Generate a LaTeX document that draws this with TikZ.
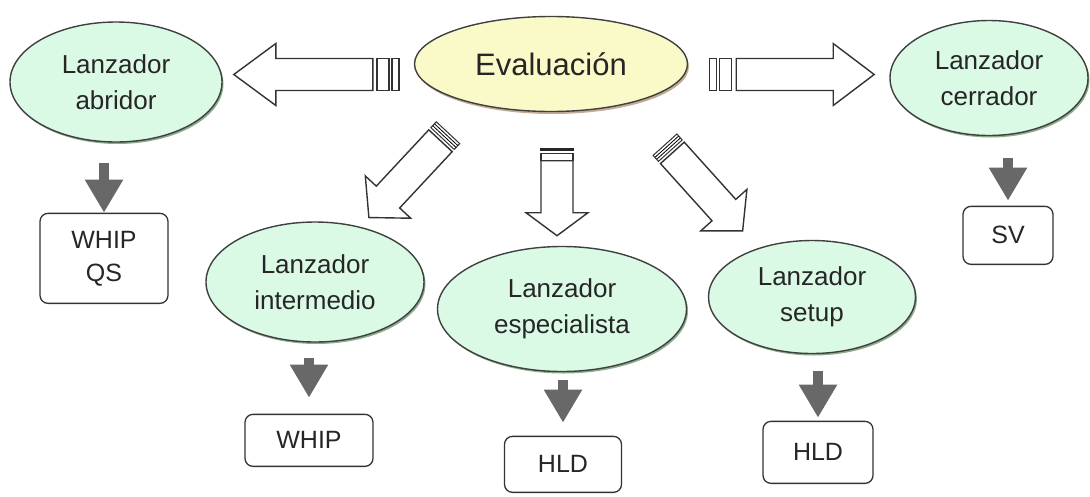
\documentclass[tikz,border=0pt]{standalone}
\usepackage{fontspec}
\setmainfont{Liberation Sans}
\usetikzlibrary{positioning}
\usetikzlibrary{shapes.geometric}
\usetikzlibrary{arrows.meta}
\usetikzlibrary{shadows}
\definecolor{lanzgreen}{HTML}{DAFAE6}
\definecolor{evalyellow}{HTML}{FAFAC8}
\definecolor{dropgrey}{HTML}{686868}
\definecolor{inkgrey}{HTML}{262626}

\begin{document}
\begin{tikzpicture}[x=1pt, y=-1pt,
    OV/.style={ellipse, draw=black!75, line width=1.4pt, inner sep=0pt, align=center, text=inkgrey},
    LZ/.style={OV, fill=lanzgreen, font=\fontsize{26}{36}\selectfont, drop shadow={shadow xshift=1.5pt, shadow yshift=-2pt, fill=green!30!black, opacity=0.45}},
    EV/.style={OV, fill=evalyellow, font=\fontsize{31}{36}\selectfont, drop shadow={shadow xshift=1.5pt, shadow yshift=-2.5pt, fill=brown!70!black, opacity=0.5}},
    MET/.style={rectangle, rounded corners=8pt, draw=black!80, line width=1.3pt, fill=white, inner sep=0pt, align=center, text=inkgrey, font=\fontsize{25}{33}\selectfont},
    DROP/.style={draw=dropgrey, line width=10pt, -{Triangle[width=36pt, length=33pt]}},
    BIG/.style={draw=black!80, fill=white, line width=1.4pt, line join=miter}]
        \useasboundingbox (0,0) rectangle (1090,496);

        \node[EV, minimum width=273pt, minimum height=95pt] (eval) at (551,64) {Evaluación};
        \node[LZ, minimum width=212pt, minimum height=120pt] (abr) at (116,82) {Lanzador\\abridor};
        \node[LZ, minimum width=198pt, minimum height=115pt] (cer) at (989,78) {Lanzador\\cerrador};
        \node[LZ, minimum width=218pt, minimum height=120pt] (inter) at (315,282) {Lanzador\\intermedio};
        \node[LZ, minimum width=249pt, minimum height=125pt] (espe) at (562,309) {Lanzador\\especialista};
        \node[LZ, minimum width=207pt, minimum height=113pt] (setup) at (812,297) {Lanzador\\setup};

        \node[MET, minimum width=128pt, minimum height=90pt, below = 70pt of abr, xshift=-12pt] (whipqs) {WHIP\\QS};
        \node[MET, minimum width=90pt, minimum height=58pt, below = 69.5pt of cer, xshift=19pt] (sv) {SV};
        \node[MET, minimum width=128pt, minimum height=52pt, below = 71pt of inter, xshift=-6pt] (whip) {WHIP};
        \node[MET, minimum width=117pt, minimum height=56pt, below = 63.5pt of espe, xshift=1pt] (hldA) {HLD};
        \node[MET, minimum width=110pt, minimum height=62pt, below = 66.5pt of setup, xshift=6pt] (hldB) {HLD};

        \draw[DROP, shorten <=20pt] (abr.south -| whipqs.north) -- (whipqs.north);
        \draw[DROP, shorten <=22pt, shorten >=5pt] (cer.south -| sv.north) -- (sv.north);
        \draw[DROP, shorten <=15pt, shorten >=16pt] (inter.south -| whip.north) -- (whip.north);
        \draw[DROP, shorten <=8pt, shorten >=13pt] (espe.south -| hldA.north) -- (hldA.north);
        \draw[DROP, shorten <=17pt, shorten >=3pt] (setup.south -| hldB.north) -- (hldB.north);

        % hollow arrows out of the evaluation
        \begin{scope}[shift={([xshift=-15pt, yshift=-10.5pt] eval.west)}, rotate=180]
            \draw[BIG] (0,-16) rectangle (7,16);
            \draw[BIG] (10,-16) rectangle (22,16);
            \draw[BIG] (26,-16) -- (123,-16) -- (123,-31) -- (165,0) -- (123,31) -- (123,16) -- (26,16) -- cycle;
        \end{scope}
        \begin{scope}[shift={([xshift=21pt, yshift=-10.5pt] eval.east)}]
            \draw[BIG] (0,-16) rectangle (7,16);
            \draw[BIG] (10,-16) rectangle (22,16);
            \draw[BIG] (27,-16) -- (124,-16) -- (124,-31) -- (165,0) -- (124,31) -- (124,16) -- (27,16) -- cycle;
        \end{scope}
        \begin{scope}[shift={([xshift=-103pt, yshift=-20.5pt] eval.south)}, rotate=-133]
            \draw[BIG, line width=1pt] (0,-16) rectangle (8,16);
            \draw[line width=0.8pt] (2.7,-16) -- (2.7,16);
            \draw[line width=0.8pt] (5.3,-16) -- (5.3,16);
            \draw[BIG] (11,-16) -- (88,-16) -- (88,-31) -- (116,0) -- (88,31) -- (88,16) -- (11,16) -- cycle;
        \end{scope}
        \begin{scope}[shift={([xshift=6pt, yshift=-35.5pt] eval.south)}, rotate=-90]
            \fill[black!85] (0,-17) rectangle (3,17);
            \draw[BIG] (6,-16) rectangle (13,16);
            \draw[BIG] (13,-16) -- (65,-16) -- (65,-31) -- (88,0) -- (65,31) -- (65,16) -- (13,16) -- cycle;
        \end{scope}
        \begin{scope}[shift={([xshift=114pt, yshift=-32.5pt] eval.south)}, rotate=-48]
            \draw[BIG, line width=1pt] (0,-16) rectangle (8,16);
            \draw[line width=0.8pt] (2.7,-16) -- (2.7,16);
            \draw[line width=0.8pt] (5.3,-16) -- (5.3,16);
            \draw[BIG] (11,-16) -- (88,-16) -- (88,-31) -- (116,0) -- (88,31) -- (88,16) -- (11,16) -- cycle;
        \end{scope}
\end{tikzpicture}
\end{document}
